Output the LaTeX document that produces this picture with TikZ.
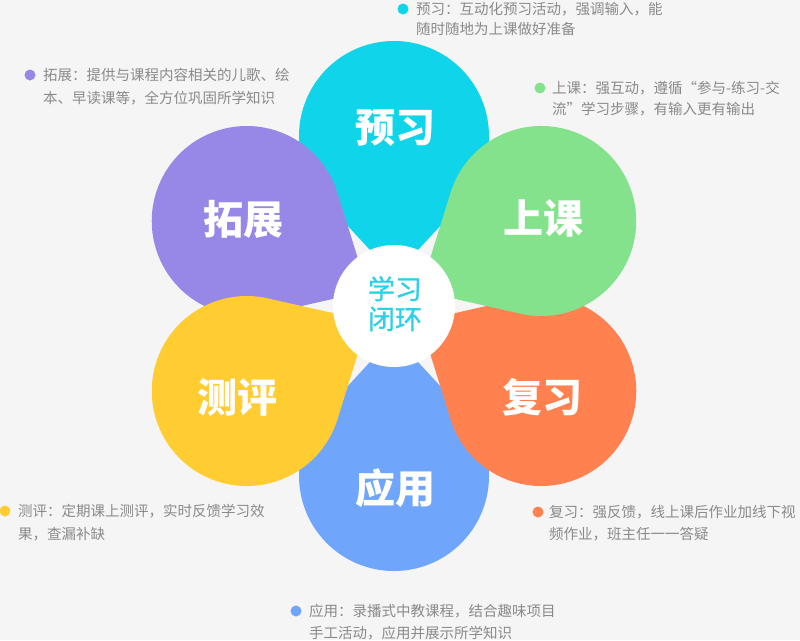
\documentclass[tikz,border=0pt]{standalone}
\usepackage{fontspec}
\newfontfamily\cjk{Noto Sans CJK SC}
\newfontfamily\cjkmid{Noto Sans CJK SC}[FakeBold=1]
\definecolor{bg}{HTML}{F5F5F5}
\definecolor{cyanP}{HTML}{10D4E9}
\definecolor{purpleP}{HTML}{9788E7}
\definecolor{greenP}{HTML}{84E28C}
\definecolor{orangeP}{HTML}{FF8150}
\definecolor{blueP}{HTML}{6FA6FB}
\definecolor{yellowP}{HTML}{FFCC31}
\definecolor{centerT}{HTML}{2DD0E6}
\definecolor{descT}{HTML}{8A8A8A}
\newcommand\petalshape[2]{%
  \begin{scope}[shift={(394,-306)}, rotate=#1]
    \fill[#2] (30,0) -- (105.6,-69.8) arc[start angle=-132.7, end angle=132.7, radius=95] -- cycle;
  \end{scope}}
\tikzset{
  petallabel/.style={inner sep=0, text=white, font=\cjk\bfseries\fontsize{40}{40}\selectfont, text height=33.2pt, text depth=3.2pt},
  centertext/.style={inner sep=0, text=centerT, font=\cjkmid\fontsize{27}{27}\selectfont, text height=22.4pt, text depth=2.2pt},
  desc/.style={anchor=west, inner sep=0, text=descT, font=\cjk\fontsize{14.5}{14.5}\selectfont, text height=12pt, text depth=1.2pt},
  bullet/.style={circle, inner sep=0, minimum size=11pt}
}
\begin{document}
\begin{tikzpicture}[x=1pt,y=1pt]
\useasboundingbox (0,0) rectangle (800,-640);
\fill[bg] (0,0) rectangle (800,-640);
% petals (drawing order gives the overlaps)
\petalshape{90}{cyanP}
\petalshape{-90}{blueP}
\petalshape{-30}{orangeP}
\petalshape{150}{purpleP}
\petalshape{30}{greenP}
\petalshape{210}{yellowP}
% centre
\node[circle, fill=white, inner sep=0, minimum size=122pt] (hub) at (394,-306) {};
\node[centertext] (hubA) at (395,-289) {学习};
\node[centertext] (hubB) at (395,-319) {闭环};
% petal labels
\node[petallabel] (lyx) at (395,-127) {预习};
\node[petallabel] (lsk) at (543,-218) {上课};
\node[petallabel] (lfx) at (542,-397) {复习};
\node[petallabel] (lyy) at (395,-488) {应用};
\node[petallabel] (lcp) at (237,-397) {测评};
\node[petallabel] (ltz) at (243,-219) {拓展};
% descriptions
\node[bullet, fill=cyanP] (b1) at (403,-9) {};
\node[desc] (d1a) at (416,-9) {预习：互动化预习活动，强调输入，能};
\node[desc] (d1b) at (416,-29) {随时随地为上课做好准备};
\node[bullet, fill=purpleP] (b2) at (30,-75) {};
\node[desc] (d2a) at (43,-75) {拓展：提供与课程内容相关的儿歌、绘};
\node[desc] (d2b) at (43,-98) {本、早读课等，全方位巩固所学知识};
\node[bullet, fill=greenP] (b3) at (540,-88) {};
\node[desc] (d3a) at (552,-88) {上课：强互动，遵循“参与-练习-交};
\node[desc] (d3b) at (552,-109) {流”学习步骤，有输入更有输出};
\node[bullet, fill=yellowP] (b4) at (5,-511) {};
\node[desc] (d4a) at (18,-511) {测评：定期课上测评，实时反馈学习效};
\node[desc] (d4b) at (18,-534) {果，查漏补缺};
\node[bullet, fill=orangeP] (b5) at (538,-512) {};
\node[desc] (d5a) at (549,-512) {复习：强反馈，线上课后作业加线下视};
\node[desc] (d5b) at (549,-534) {频作业，班主任一一答疑};
\node[bullet, fill=blueP] (b6) at (296,-611) {};
\node[desc] (d6a) at (309,-611) {应用：录播式中教课程，结合趣味项目};
\node[desc] (d6b) at (309,-633) {手工活动，应用并展示所学知识};
\end{tikzpicture}
\end{document}
